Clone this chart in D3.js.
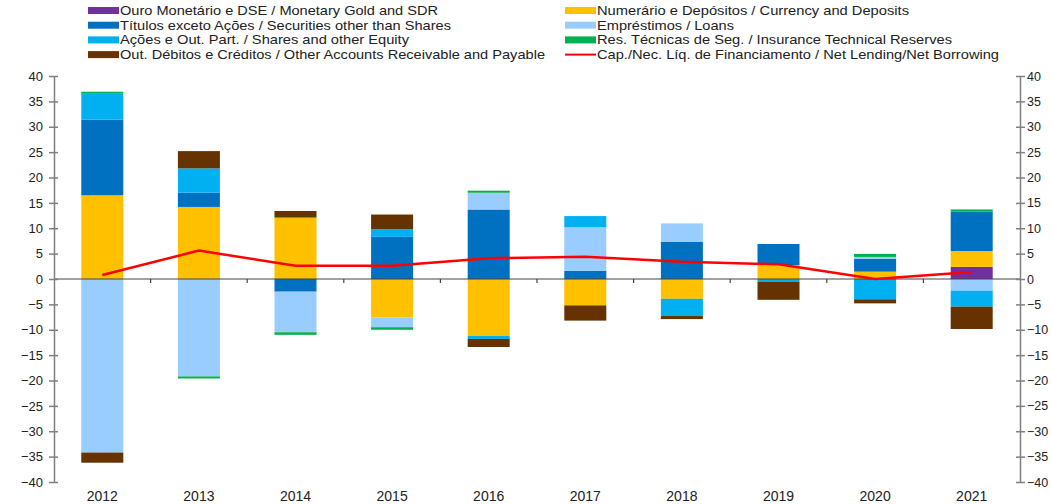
<!DOCTYPE html>
<html>
<head>
<meta charset="utf-8">
<script src="https://cdn.jsdelivr.net/npm/d3@7"></script>
<style>
  body { margin: 0; background: #fff; }
  svg text { font-family: "Liberation Sans", Arial, sans-serif; fill: #222; }
</style>
</head>
<body>
<div id="chart"></div>
<script>
// data (bn, stacked flows)
var years      = ["2012","2013","2014","2015","2016","2017","2018","2019","2020","2021"];
var gold       = [0, 0, 0, 0, 0, 0, 0, 0, 0, 2.4];
var currency   = [16.5, 14.2, 12.1, -7.6, -11.2, -5.2, -3.9, 2.75, 1.45, 3.1];
var securities = [14.9, 2.8, -2.5, 8.3, 13.7, 1.6, 7.35, 4.15, 2.5, 7.8];
var loans      = [-34.2, -19.2, -8.0, -1.9, 3.3, 8.6, 3.6, 0, 0.4, -2.3];
var shares     = [5.1, 4.8, 0, 1.5, -0.6, 2.2, -3.4, -0.5, -4.0, -3.15];
var insurance  = [0.4, -0.4, -0.5, -0.5, 0.4, 0, 0, 0, 0.6, 0.4];
var other      = [-2.0, 3.4, 1.3, 2.9, -1.6, -3.0, -0.6, -3.6, -0.8, -4.4];
var netLending = [0.8, 5.6, 2.6, 2.6, 4.1, 4.4, 3.4, 2.9, 0.0, 1.4];
var yTicks     = [-40,-35,-30,-25,-20,-15,-10,-5,0,5,10,15,20,25,30,35,40];

var seriesKeys = ["gold","currency","securities","loans","shares","insurance","other"];
var seriesVals = {gold:gold, currency:currency, securities:securities, loans:loans,
                  shares:shares, insurance:insurance, other:other};
var colors = {gold:"#7030A0", currency:"#FFC000", securities:"#0070C0", loans:"#99CCFF",
              shares:"#00B0F0", insurance:"#00B050", other:"#663300"};
var labels = {
  gold:"Ouro Monetário e DSE / Monetary Gold and SDR",
  currency:"Numerário e Depósitos / Currency and Deposits",
  securities:"Títulos exceto Ações / Securities other than Shares",
  loans:"Empréstimos / Loans",
  shares:"Ações e Out. Part. / Shares and other Equity",
  insurance:"Res. Técnicas de Seg. / Insurance Technical Reserves",
  other:"Out. Débitos e Créditos / Other Accounts Receivable and Payable",
  line:"Cap./Nec. Líq. de Financiamento / Net Lending/Net Borrowing"
};

var W = 1051, H = 504;
var plotLeft = 54, plotRight = 1020, plotTop = 76, plotBottom = 482;

var rows = years.map(function(yr, i) {
  var r = {year: yr};
  seriesKeys.forEach(function(k) { r[k] = seriesVals[k][i]; });
  return r;
});

var svg = d3.select("#chart").append("svg")
  .attr("width", W).attr("height", H);

var x = d3.scaleBand().domain(years).range([plotLeft, plotRight])
  .paddingInner(0.565).paddingOuter(0.2825);
var y = d3.scaleLinear().domain([-40, 40]).range([plotBottom, plotTop]);

var stack = d3.stack().keys(seriesKeys).offset(d3.stackOffsetDiverging);
var stacked = stack(rows);

// bars
svg.append("g").selectAll("g")
  .data(stacked).enter().append("g")
  .attr("fill", function(d) { return colors[d.key]; })
  .selectAll("rect")
  .data(function(d) { return d; }).enter().append("rect")
  .attr("x", function(d) { return x(d.data.year); })
  .attr("width", x.bandwidth())
  .attr("y", function(d) { return y(Math.max(d[0], d[1])); })
  .attr("height", function(d) { return Math.abs(y(d[0]) - y(d[1])); });

// zero line with category ticks
svg.append("line")
  .attr("x1", plotLeft).attr("x2", plotRight)
  .attr("y1", y(0)).attr("y2", y(0))
  .attr("stroke", "#444").attr("stroke-width", 1.2);

var bounds = years.slice(1).map(function(d) {
  return x(d) - x.step() * x.paddingInner() / 2;
});
svg.append("g").selectAll("line").data(bounds).enter().append("line")
  .attr("x1", function(d) { return d; }).attr("x2", function(d) { return d; })
  .attr("y1", y(0)).attr("y2", y(0) + 4)
  .attr("stroke", "#444").attr("stroke-width", 1.2);

// left & right value axes
function styleAxis(g) {
  g.select(".domain").attr("stroke", "#808080").attr("stroke-width", 1.5);
  g.selectAll(".tick line").attr("stroke", "#808080").attr("stroke-width", 1.5);
  g.selectAll(".tick text").style("font-size", "13px").attr("fill", "#222");
}

var axL = svg.append("g").attr("transform", "translate(" + plotLeft + ",0)")
  .call(d3.axisLeft(y).tickValues(yTicks).tickSize(5).tickSizeOuter(0).tickPadding(6))
  .call(styleAxis);
axL.selectAll(".tick line").attr("x2", 4).attr("x1", -5);

var axR = svg.append("g").attr("transform", "translate(" + plotRight + ",0)")
  .call(d3.axisRight(y).tickValues(yTicks).tickSize(5).tickSizeOuter(0).tickPadding(2))
  .call(styleAxis);
axR.selectAll(".tick line").attr("x1", -4).attr("x2", 5);
axR.selectAll(".tick text").style("font-size", "12.5px");

// category labels
svg.append("g").attr("transform", "translate(0," + plotBottom + ")")
  .call(d3.axisBottom(x).tickSize(0).tickPadding(9))
  .call(function(g) {
    g.select(".domain").remove();
    g.selectAll("text").style("font-size", "14px").attr("fill", "#222");
  });

// net lending line
var line = d3.line()
  .x(function(d, i) { return x(years[i]) + x.bandwidth() / 2; })
  .y(function(d) { return y(d); });
svg.append("path")
  .datum(netLending)
  .attr("d", line)
  .attr("fill", "none")
  .attr("stroke", "#FF0000")
  .attr("stroke-width", 2.5);

// legend (two columns, row-major order)
var legendItems = ["gold","currency","securities","loans","shares","insurance","other","line"];
var legendWidths = {gold:318, currency:312, securities:331, loans:137,
                    shares:289, insurance:355, other:425, line:402};
var legend = svg.append("g");
legendItems.forEach(function(k, i) {
  var col = i % 2, row = Math.floor(i / 2);
  var lx = col === 0 ? 88 : 565;
  var ly = 10.5 + row * 14.7;
  var g = legend.append("g").attr("transform", "translate(" + lx + "," + ly + ")");
  if (k === "line") {
    g.append("line").attr("x1", 0).attr("x2", 31).attr("y1", 0).attr("y2", 0)
      .attr("stroke", "#FF0000").attr("stroke-width", 2);
  } else {
    g.append("rect").attr("x", 0).attr("y", -3.5).attr("width", 31).attr("height", 7)
      .attr("fill", colors[k]);
  }
  g.append("text").attr("x", 32).attr("y", 0).attr("dy", "0.35em")
    .style("font-size", "13px")
    .attr("textLength", legendWidths[k])
    .attr("lengthAdjust", "spacingAndGlyphs")
    .text(labels[k]);
});
</script>
</body>
</html>
